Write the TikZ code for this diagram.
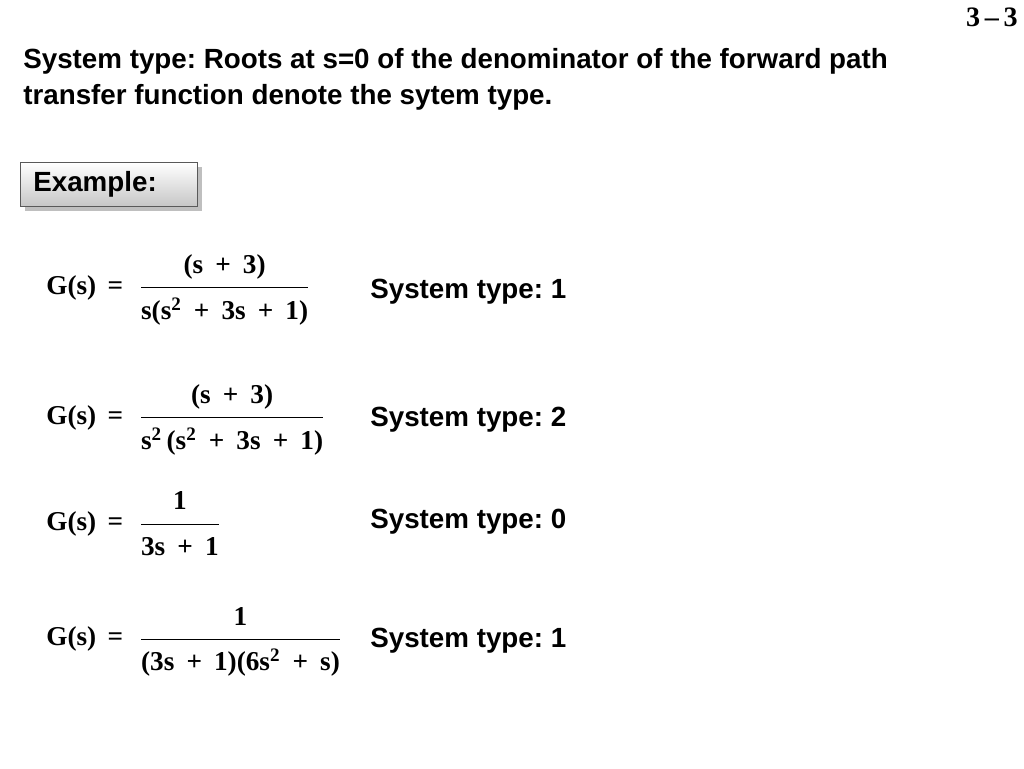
\documentclass[tikz,border=0pt]{standalone}
\usepackage{amsmath}
\usepackage{fontspec}
\setmainfont{Liberation Sans}
\newfontfamily\eqf{Liberation Serif}
\usetikzlibrary{shadows}
\frenchspacing
\begin{document}
\begin{tikzpicture}[x=0.02cm,y=-0.02cm,
  txt/.style={font=\fontsize{15.8}{19}\selectfont\bfseries,anchor=west,inner sep=0},
  eq/.style={font=\fontsize{15.5}{19}\selectfont\eqf\bfseries,anchor=west,inner sep=0}]
\useasboundingbox (0,0) rectangle (1024,768);
\node[txt,anchor=north east,font=\fontsize{16}{19}\selectfont\eqf\bfseries] (pg) at (1018,8) {3\,–\,3};
\node[txt,anchor=north west,align=left] (title) at (23,48) {System type: Roots at s=0 of the denominator of the forward path\\[1.5pt]transfer function denote the sytem type.};
\node[draw=gray!70!black,thick,top color=white,bottom color=gray!45,drop shadow,minimum width=177*0.02cm,minimum height=44*0.02cm,anchor=north west] (ex) at (20,162) {};
\node[txt] (exl) at (33,184) {Example:};
\newcommand{\T}[1]{\text{\eqf\bfseries #1}}
\newcommand{\pl}{\;\,+\;\,}
\node[eq] (e1) at (46,290) {G(s) \,=\, \,$\dfrac{\T{(s\pl 3)}\rule[-6pt]{0pt}{1pt}}{\rule{0pt}{16pt}\T{s(s\textsuperscript{2}\pl 3s\pl 1)}}$};
\node[eq] (e2) at (46,420) {G(s) \,=\, \,$\dfrac{\T{(s\pl 3)}\rule[-6pt]{0pt}{1pt}}{\rule{0pt}{16pt}\T{s\textsuperscript{2}\,(s\textsuperscript{2}\pl 3s\pl 1)}}$};
\node[eq] (e3) at (46,524) {G(s) \,=\, \,$\dfrac{\T{1}\rule[-6pt]{0pt}{1pt}}{\rule{0pt}{16pt}\T{3s\pl 1}}$};
\node[eq] (e4) at (46,642) {G(s) \,=\, \,$\dfrac{\T{1}\rule[-6pt]{0pt}{1pt}}{\rule{0pt}{16pt}\T{(3s\pl 1)(6s\textsuperscript{2}\pl s)}}$};
\node[txt] (t1) at (370,292) {System type: 1};
\node[txt] (t2) at (370,420) {System type: 2};
\node[txt] (t3) at (370,522) {System type: 0};
\node[txt] (t4) at (370,641) {System type: 1};
\end{tikzpicture}
\end{document}
